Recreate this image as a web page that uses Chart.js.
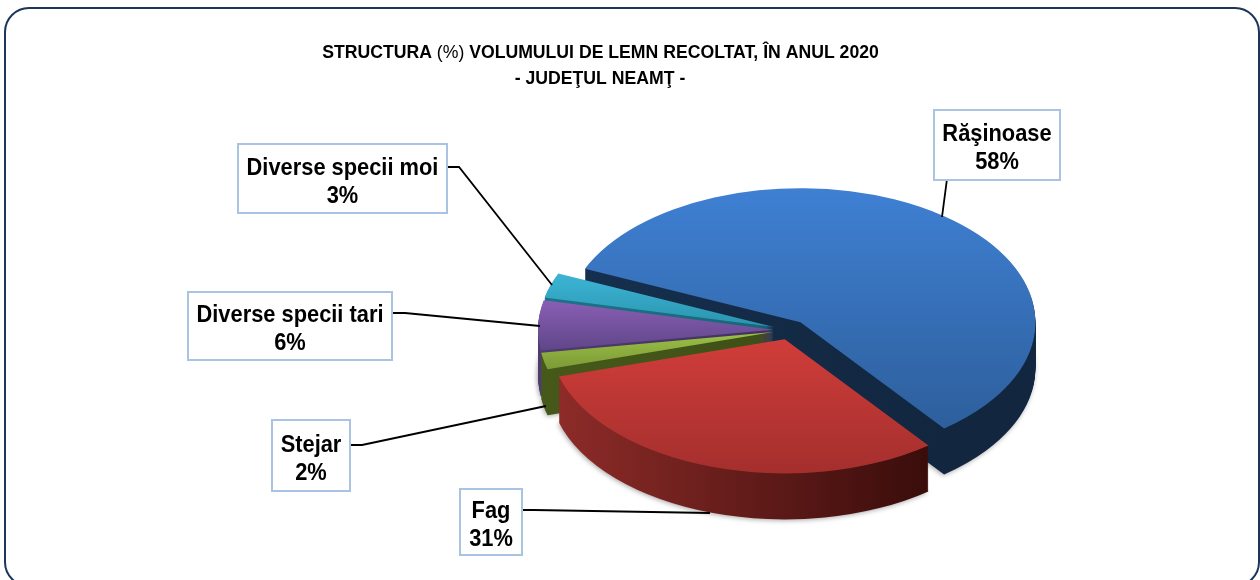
<!DOCTYPE html>
<html lang="ro">
<head>
<meta charset="utf-8">
<title>Structura volumului de lemn recoltat</title>
<script src="https://cdn.jsdelivr.net/npm/chart.js@4"></script>
<style>html,body{margin:0;padding:0;background:#fff}canvas{display:block}</style>
</head>
<body>
<canvas id="c" width="1260" height="580"></canvas>
<script>
const categories = ["Răşinoase", "Fag", "Stejar", "Diverse specii tari", "Diverse specii moi"];
const values = [58, 31, 2, 6, 3];
const titleLine1 = [["STRUCTURA ", true], ["(%) ", false], ["VOLUMULUI DE LEMN RECOLTAT, ÎN ANUL 2020", true]];
const titleLine2 = "- JUDEŢUL NEAMŢ -";

const topLight = ["#3f80d3", "#d03d3a", "#9cc146", "#8a5fb5", "#3db5d6"];
const topDark = ["#2d5f9c", "#a42f2d", "#7c9a37", "#5f4688", "#2a94ae"];
const sideLeft = ["#15304f", "#8f2c29", "#46591a", "#4f3a72", "#1d7388"];
const sideRight = ["#12263f", "#3a0d0b", "#3a4a15", "#3d2c58", "#175d6f"];

// label box [x0, y0, x1, y1] and leader polyline, one per category
const labelBoxes = [[934,110,1060,180],[460,489,522,555],[272,420,350,491],[188,292,392,360],[238,144,447,213]];
const leaders = [
  [[958,179],[947,179],[942,217]],
  [[522,510],[534,510],[710,513]],
  [[350,445],[362,445],[546,406]],
  [[393,313],[405,313],[540,326]],
  [[448,167],[459,167],[552,285]]
];

const CX = 790, CY = 330, SQUASH = 0.571, DEPTH = 46, EXPLODE = 17, RADIUS = 235;
const drawOrder = [0, 4, 3, 2, 1];

function drawSlice(ctx, el, i, dy, fill) {
  const mid = (el.startAngle + el.endAngle) / 2;
  const proxy = Object.create(el);
  proxy.options = Object.assign({}, el.options, {backgroundColor: fill, borderWidth: 0, offset: 0, spacing: 0});
  ctx.save();
  ctx.translate(CX, CY + dy);
  ctx.scale(1, SQUASH);
  ctx.translate(Math.cos(mid) * EXPLODE - el.x, Math.sin(mid) * EXPLODE - el.y);
  el.draw.call(proxy, ctx);
  ctx.restore();
}

// vertical extent of a slice, so each slice carries its own full gradient
function sliceExtent(el) {
  const angles = [el.startAngle, el.endAngle];
  for (let a = -Math.PI * 2.5; a < el.endAngle; a += Math.PI) {
    if (a > el.startAngle) angles.push(a);
  }
  const ys = angles.map(a => el.y + Math.sin(a) * RADIUS).concat(el.y);
  return [Math.min.apply(null, ys), Math.max.apply(null, ys)];
}

function pie3d(chart) {
  const ctx = chart.ctx, arcs = chart.getDatasetMeta(0).data;
  drawOrder.forEach(i => {
    const el = arcs[i];
    const side = ctx.createLinearGradient(el.x - RADIUS, 0, el.x + RADIUS * 0.6, 0);
    side.addColorStop(0, sideLeft[i]);
    side.addColorStop(1, sideRight[i]);
    ctx.save();
    ctx.shadowColor = "rgba(0,0,0,0.35)";
    ctx.shadowBlur = 5;
    ctx.shadowOffsetX = -1;
    ctx.shadowOffsetY = 1;
    drawSlice(ctx, el, i, DEPTH, side);
    ctx.restore();
    for (let dy = DEPTH - 1; dy > 0; dy--) drawSlice(ctx, el, i, dy, side);
    const ext = sliceExtent(el);
    const top = ctx.createLinearGradient(0, ext[0], 0, ext[1]);
    top.addColorStop(0, topLight[i]);
    top.addColorStop(1, topDark[i]);
    drawSlice(ctx, el, i, 0, top);
  });
}

function drawFrame(ctx) {
  ctx.save();
  ctx.strokeStyle = "#1b3658";
  ctx.lineWidth = 2;
  ctx.beginPath();
  ctx.roundRect(5, 8, 1254, 578, 24);
  ctx.stroke();
  ctx.restore();
}

function squeezed(ctx, text, x, y, sx) {
  ctx.save();
  ctx.translate(x, y);
  ctx.scale(sx, 1);
  ctx.fillText(text, 0, 0);
  ctx.restore();
}

function drawTitle(ctx) {
  const sx = 0.98, size = 18;
  ctx.save();
  ctx.fillStyle = "#000";
  ctx.textBaseline = "alphabetic";
  ctx.textAlign = "left";
  const font = b => (b ? "bold " : "") + size + 'px "Liberation Sans Narrow", "Liberation Sans"';
  let total = 0;
  titleLine1.forEach(p => { ctx.font = font(p[1]); total += ctx.measureText(p[0]).width * sx; });
  let x = 600.5 - total / 2;
  titleLine1.forEach(p => {
    ctx.font = font(p[1]);
    squeezed(ctx, p[0], x, 58, sx);
    x += ctx.measureText(p[0]).width * sx;
  });
  ctx.font = font(true);
  ctx.textAlign = "center";
  squeezed(ctx, titleLine2, 600, 84, sx);
  ctx.restore();
}

function drawLabels(ctx) {
  ctx.save();
  leaders.forEach(pts => {
    ctx.strokeStyle = "#000";
    ctx.lineWidth = 1.8;
    ctx.beginPath();
    pts.forEach((p, k) => k ? ctx.lineTo(p[0], p[1]) : ctx.moveTo(p[0], p[1]));
    ctx.stroke();
  });
  categories.forEach((cat, i) => {
    const b = labelBoxes[i];
    ctx.fillStyle = "#fff";
    ctx.strokeStyle = "#a9c3e2";
    ctx.lineWidth = 2;
    ctx.fillRect(b[0], b[1], b[2] - b[0], b[3] - b[1]);
    ctx.strokeRect(b[0], b[1], b[2] - b[0], b[3] - b[1]);
    ctx.fillStyle = "#000";
    ctx.font = 'bold 24px "Liberation Sans Narrow", "Liberation Sans"';
    ctx.textAlign = "center";
    ctx.textBaseline = "alphabetic";
    const cx = (b[0] + b[2]) / 2, cy = (b[1] + b[3]) / 2;
    squeezed(ctx, cat, cx, cy - 4, 0.91);
    squeezed(ctx, values[i] + "%", cx, cy + 24, 0.91);
  });
  ctx.restore();
}

const pie3dPlugin = {
  id: "pie3d",
  beforeDatasetsDraw(chart) { pie3d(chart); return false; },
  afterDraw(chart) {
    drawFrame(chart.ctx);
    drawTitle(chart.ctx);
    drawLabels(chart.ctx);
  }
};

new Chart(document.getElementById("c"), {
  type: "pie",
  data: {labels: categories, datasets: [{data: values, backgroundColor: topLight, borderWidth: 0}]},
  options: {
    responsive: false,
    animation: false,
    rotation: -66.5,
    radius: RADIUS,
    events: [],
    layout: {padding: 0},
    plugins: {legend: {display: false}, tooltip: {enabled: false}, title: {display: false}}
  },
  plugins: [pie3dPlugin]
});
</script>
</body>
</html>
